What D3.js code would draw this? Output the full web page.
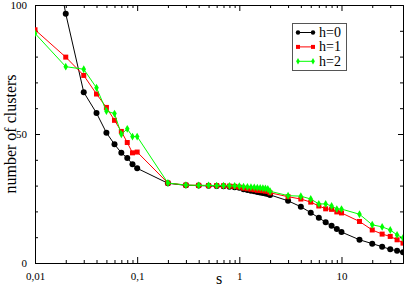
<!DOCTYPE html>
<html>
<head>
<meta charset="utf-8">
<script src="https://cdn.jsdelivr.net/npm/d3@7"></script>
<style>
  body { margin: 0; background: #fff; }
  svg text { font-family: "Liberation Serif", "DejaVu Serif", serif; }
  .axis path, .axis line { stroke: #000; }
</style>
</head>
<body>
<div id="chart"></div>
<script>
var width = 407, height = 288;

var sVals = [0.01,0.02,0.03,0.04,0.05,0.06,0.07,0.08,0.09,0.1,
  0.2,0.3,0.4,0.5,0.6,0.7,0.8,0.9,
  1,1.1,1.2,1.3,1.4,1.5,1.6,1.7,1.8,1.9,2,
  3,4,5,6,7,8,9,10,15,20,25,30,35,40];

var h0 = [160,96.6,66.2,58.1,50.5,46.0,42.7,40.7,38.3,36.7,
  30.9,30.1,30.0,29.9,29.8,29.7,29.6,29.4,
  29.2,28.6,28.3,28.0,27.8,27.5,27.3,27.1,26.9,26.7,26.4,
  24.1,21.8,19.5,17.5,15.8,14.4,13.2,12.0,9.0,7.5,6.3,5.3,4.7,4.2];

var h1 = [90.4,79.8,72.7,65.5,60.3,55.3,51.0,46.7,42.7,43.0,
  31.0,30.2,30.1,30.0,30.0,29.9,29.8,29.7,
  29.4,29.0,28.8,28.6,28.4,28.2,28.1,28.0,27.9,27.8,27.2,
  25.7,24.8,23.6,22.1,21.0,20.8,19.8,19.4,16.1,12.8,11.2,10.3,9.0,7.7];

var h2 = [89.0,76.1,75.1,67.9,58.9,57.9,49.9,52.0,49.0,49.0,
  31.0,30.2,30.1,30.1,30.0,30.0,29.9,29.9,
  29.8,29.6,29.5,29.4,29.3,29.2,29.1,29.0,28.9,28.7,27.8,
  26.1,25.9,24.8,22.9,22.9,22.1,20.9,20.9,18.9,14.8,14.0,12.8,10.9,9.7];

var xMajor = [0.01, 0.1, 1, 10];
var xMajorLabels = ["0,01", "0,1", "1", "10"];
var xMinor = [0.02,0.03,0.04,0.05,0.06,0.07,0.08,0.09,
  0.2,0.3,0.4,0.5,0.6,0.7,0.8,0.9,2,3,4,5,6,7,8,9,20,30];
var yMajor = [0, 50, 100];
var yMinor = [10,20,30,40,60,70,80,90];

var series = [
  {name: "h=0", values: h0, color: "#000000", marker: "circle"},
  {name: "h=1", values: h1, color: "#ff0000", marker: "square"},
  {name: "h=2", values: h2, color: "#00ff00", marker: "diamond"}
];

var mLeft = 35, mRight = 403, mTop = 5, mBottom = 263;

var x = d3.scaleLog().domain([0.01, 40]).range([mLeft, mRight]);
var y = d3.scaleLinear().domain([0, 100]).range([mBottom, mTop]);

var svg = d3.select("#chart").append("svg")
  .attr("width", width)
  .attr("height", height);

svg.append("defs").append("clipPath").attr("id", "clip")
  .append("rect")
  .attr("x", mLeft).attr("y", mTop)
  .attr("width", mRight - mLeft).attr("height", mBottom - mTop);

// axes, ticks pointing inside
function fmtX(d) { return xMajorLabels[xMajor.indexOf(d)]; }

svg.append("g").attr("class", "axis")
  .attr("transform", "translate(0," + mBottom + ")")
  .call(d3.axisBottom(x).tickValues(xMajor).tickFormat(fmtX).tickSizeInner(-6).tickSizeOuter(0).tickPadding(9));
svg.append("g").attr("class", "axis")
  .attr("transform", "translate(0," + mBottom + ")")
  .call(d3.axisBottom(x).tickValues(xMinor).tickFormat("").tickSizeInner(-3).tickSizeOuter(0));
svg.append("g").attr("class", "axis")
  .attr("transform", "translate(0," + mTop + ")")
  .call(d3.axisTop(x).tickValues(xMajor).tickFormat("").tickSizeInner(-6).tickSizeOuter(0));
svg.append("g").attr("class", "axis")
  .attr("transform", "translate(0," + mTop + ")")
  .call(d3.axisTop(x).tickValues(xMinor).tickFormat("").tickSizeInner(-3).tickSizeOuter(0));

svg.append("g").attr("class", "axis")
  .attr("transform", "translate(" + mLeft + ",0)")
  .call(d3.axisLeft(y).tickValues(yMajor).tickSizeInner(-5).tickSizeOuter(0).tickPadding(8));
svg.append("g").attr("class", "axis")
  .attr("transform", "translate(" + mLeft + ",0)")
  .call(d3.axisLeft(y).tickValues(yMinor).tickFormat("").tickSizeInner(-3).tickSizeOuter(0));
svg.append("g").attr("class", "axis")
  .attr("transform", "translate(" + mRight + ",0)")
  .call(d3.axisRight(y).tickValues(yMajor).tickFormat("").tickSizeInner(-5).tickSizeOuter(0));
svg.append("g").attr("class", "axis")
  .attr("transform", "translate(" + mRight + ",0)")
  .call(d3.axisRight(y).tickValues(yMinor).tickFormat("").tickSizeInner(-3).tickSizeOuter(0));

svg.selectAll(".axis text")
  .style("font-family", "'Liberation Serif', serif")
  .style("font-size", "11px")
  .attr("fill", "#000");

// axis titles
svg.append("text")
  .attr("x", (mLeft + mRight) / 2)
  .attr("y", 284)
  .attr("text-anchor", "middle")
  .style("font-size", "16px")
  .text("s");

svg.append("text")
  .attr("transform", "translate(16," + ((mTop + mBottom) / 2) + ") rotate(-90)")
  .attr("text-anchor", "middle")
  .style("font-size", "16px")
  .text("number of clusters");

// lines and markers
var line = d3.line()
  .x(function(d) { return x(d[0]); })
  .y(function(d) { return y(d[1]); });

var plot = svg.append("g").attr("clip-path", "url(#clip)");

function drawMarker(g, s) {
  var pts = sVals.map(function(v, i) { return [v, s.values[i]]; });
  if (s.marker === "circle") {
    g.selectAll("circle").data(pts).enter().append("circle")
      .attr("cx", function(d) { return x(d[0]); })
      .attr("cy", function(d) { return y(d[1]); })
      .attr("r", 3)
      .attr("fill", s.color);
  } else if (s.marker === "square") {
    g.selectAll("rect").data(pts).enter().append("rect")
      .attr("x", function(d) { return x(d[0]) - 2.5; })
      .attr("y", function(d) { return y(d[1]) - 2.5; })
      .attr("width", 5).attr("height", 5)
      .attr("fill", s.color);
  } else {
    g.selectAll("path").data(pts).enter().append("path")
      .attr("d", d3.symbol().type(d3.symbolDiamond).size(18))
      .attr("transform", function(d) { return "translate(" + x(d[0]) + "," + y(d[1]) + ")"; })
      .attr("fill", s.color);
  }
}

series.forEach(function(s) {
  var pts = sVals.map(function(v, i) { return [v, s.values[i]]; });
  plot.append("path")
    .datum(pts)
    .attr("fill", "none")
    .attr("stroke", s.color)
    .attr("stroke-width", 1)
    .attr("d", line);
  drawMarker(plot.append("g"), s);
});

// legend
var lg = svg.append("g").attr("transform", "translate(292,23)");
lg.append("rect")
  .attr("x", 0.5).attr("y", 0.5)
  .attr("width", 54).attr("height", 47)
  .attr("fill", "#fff")
  .attr("stroke", "#555");

series.forEach(function(s, i) {
  var yy = 9.5 + i * 14.4;
  var row = lg.append("g");
  row.append("line")
    .attr("x1", 6).attr("x2", 21)
    .attr("y1", yy).attr("y2", yy)
    .attr("stroke", s.color);
  var m = row.append("g");
  [6, 21].forEach(function(px) {
    if (s.marker === "circle") {
      m.append("circle").attr("cx", px).attr("cy", yy).attr("r", 2.2).attr("fill", s.color);
    } else if (s.marker === "square") {
      m.append("rect").attr("x", px - 2).attr("y", yy - 2).attr("width", 4).attr("height", 4).attr("fill", s.color);
    } else {
      m.append("path").attr("d", d3.symbol().type(d3.symbolDiamond).size(12))
        .attr("transform", "translate(" + px + "," + yy + ")").attr("fill", s.color);
    }
  });
  row.append("text")
    .attr("x", 27).attr("y", yy + 4.5)
    .style("font-size", "14px")
    .text(s.name);
});
</script>
</body>
</html>
